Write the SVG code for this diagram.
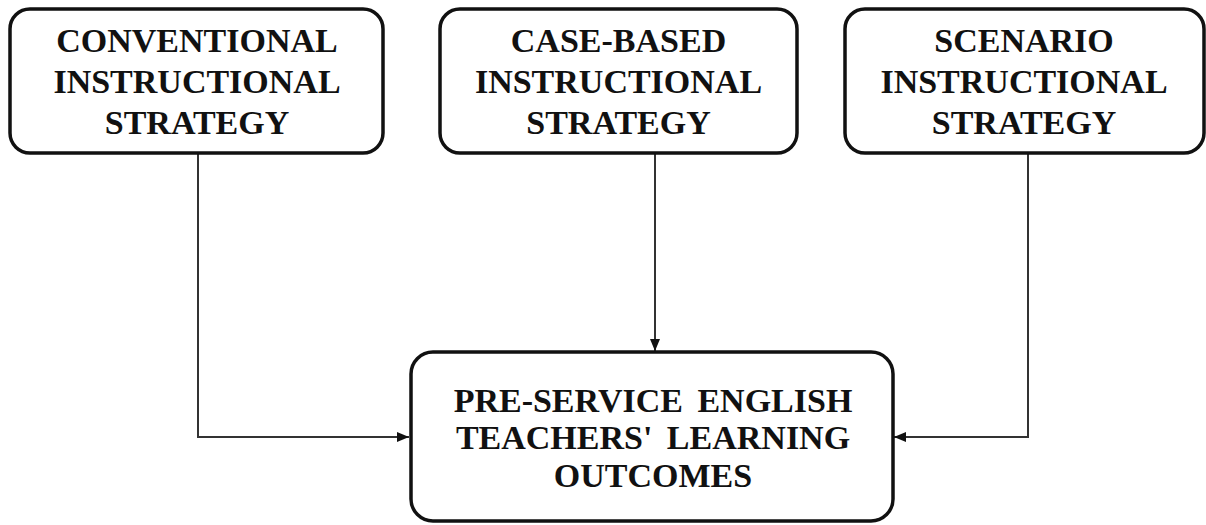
<svg xmlns="http://www.w3.org/2000/svg" width="1206" height="525" viewBox="0 0 1206 525">
<style>
.box{fill:#fff;stroke:#111;stroke-width:3.5}
.t{font-family:"Liberation Serif","Times New Roman",serif;font-weight:bold;font-size:34px;fill:#111;text-anchor:middle}
.c{fill:none;stroke:#333;stroke-width:2}
</style>
<defs>
<marker id="ah" markerWidth="12" markerHeight="10" refX="12" refY="5" orient="auto" markerUnits="userSpaceOnUse">
<path d="M0,0 L12,5 L0,10 Z" fill="#111"/>
</marker>
</defs>
<rect width="1206" height="525" fill="#fff"/>
<g id="connectors">
<path class="c" d="M198,153 V437 H409" marker-end="url(#ah)"/>
<path class="c" d="M655,153 V351" marker-end="url(#ah)"/>
<path class="c" d="M1028,153 V437 H894" marker-end="url(#ah)"/>
</g>
<g id="conventional">
<rect class="box" x="10" y="9" width="373" height="144" rx="20"/>
<text class="t" x="197" y="52">CONVENTIONAL</text>
<text class="t" x="197" y="93">INSTRUCTIONAL</text>
<text class="t" x="197" y="134">STRATEGY</text>
</g>
<g id="casebased">
<rect class="box" x="440" y="9" width="357" height="144" rx="20"/>
<text class="t" x="618.5" y="52">CASE-BASED</text>
<text class="t" x="618.5" y="93">INSTRUCTIONAL</text>
<text class="t" x="618.5" y="134">STRATEGY</text>
</g>
<g id="scenario">
<rect class="box" x="845" y="9" width="359" height="144" rx="20"/>
<text class="t" x="1024" y="52">SCENARIO</text>
<text class="t" x="1024" y="93">INSTRUCTIONAL</text>
<text class="t" x="1024" y="134">STRATEGY</text>
</g>
<g id="outcomes">
<rect class="box" x="411" y="352" width="482" height="169" rx="22"/>
<text class="t" x="653" y="412" word-spacing="6">PRE-SERVICE ENGLISH</text>
<text class="t" x="653" y="449" word-spacing="6">TEACHERS' LEARNING</text>
<text class="t" x="653" y="487">OUTCOMES</text>
</g>
</svg>
